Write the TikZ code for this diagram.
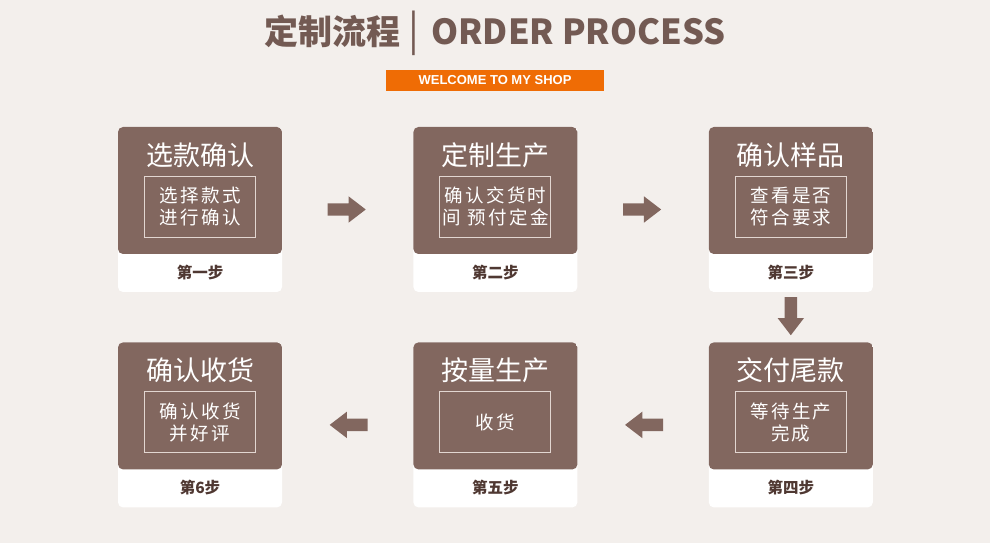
\documentclass[tikz,border=0pt]{standalone}
\usepackage{fontspec}
\setmainfont{Noto Sans CJK SC}
\newfontfamily\arialfont{Liberation Sans}
\usetikzlibrary{positioning,calc,shapes.arrows}
\definecolor{pagebg}{HTML}{F3EFEC}
\definecolor{cardbrown}{HTML}{82675F}
\definecolor{headbrown}{HTML}{735A53}
\definecolor{lbltext}{HTML}{4F3832}
\definecolor{shoporange}{HTML}{EF6C05}
\definecolor{boxline}{HTML}{E2D6D1}

\begin{document}
\begin{tikzpicture}
[x=1pt,y=1pt,
card/.style={fill=white,rounded corners=5pt,minimum width=164pt,minimum height=165pt,inner sep=0pt,
  path picture={\fill[cardbrown] ([yshift=38pt]path picture bounding box.south west) rectangle
    (path picture bounding box.north east);}},
ttl/.style={text=white,font=\fontsize{27}{30}\selectfont,inner sep=0pt},
inbox/.style={draw=boxline,line width=1pt,minimum width=111pt,minimum height=61pt,inner sep=0pt,
  text=white,align=center,font=\fontsize{18.5}{22}\selectfont\addfontfeature{LetterSpace=13}},
steplbl/.style={text=lbltext,font=\fontsize{15.5}{18}\selectfont\bfseries,inner sep=0pt},
barrow/.style={single arrow,fill=cardbrown,minimum height=38pt,inner sep=6pt,
  single arrow head extend=7pt,single arrow tip angle=75,single arrow head indent=0pt}]
\fill[pagebg] (0,0) rectangle (990,543);
\useasboundingbox (0,0) rectangle (990,543);
% header
\node[text=headbrown,inner sep=0pt] (head) at (495,510)
  {{\fontsize{34}{40}\selectfont\bfseries 定制流程}\hspace{8pt}{\fontsize{40}{40}\selectfont |}\hspace{12pt}{\fontsize{34.5}{40}\selectfont\bfseries ORDER PROCESS}};
\node[fill=shoporange,minimum width=218pt,minimum height=21pt,inner sep=0pt,text=white,
  font=\arialfont\bfseries\fontsize{13}{14}\selectfont] (shop) at (495,462.5) {WELCOME TO MY SHOP};
% cards
\node[card] (s1) at (200,333.5) {};
\node[card,right=131pt of s1] (s2) {};
\node[card,right=131pt of s2] (s3) {};
\node[card,below=50pt of s3] (s4) {};
\node[card,left=131pt of s4] (s5) {};
\node[card,left=131pt of s5] (s6) {};
% titles
\node[ttl] (t1) at ([yshift=-28pt]s1.north) {选款确认};
\node[ttl] (t2) at ([yshift=-28pt]s2.north) {定制生产};
\node[ttl] (t3) at ([yshift=-28pt]s3.north) {确认样品};
\node[ttl] (t4) at ([yshift=-28pt]s4.north) {交付尾款};
\node[ttl] (t5) at ([yshift=-28pt]s5.north) {按量生产};
\node[ttl] (t6) at ([yshift=-28pt]s6.north) {确认收货};
% inner boxes
\node[inbox] (b1) at ([yshift=-80pt]s1.north) {选择款式\\进行确认};
\node[inbox] (b2) at ([yshift=-80pt]s2.north) {确认交货时\\间 预付定金};
\node[inbox] (b3) at ([yshift=-80pt]s3.north) {查看是否\\符合要求};
\node[inbox] (b4) at ([yshift=-80pt]s4.north) {等待生产\\完成};
\node[inbox] (b5) at ([yshift=-80pt]s5.north) {收货};
\node[inbox] (b6) at ([yshift=-80pt]s6.north) {确认收货\\并好评};
% step labels
\node[steplbl] (l1) at ([yshift=20pt]s1.south) {第一步};
\node[steplbl] (l2) at ([yshift=20pt]s2.south) {第二步};
\node[steplbl] (l3) at ([yshift=20pt]s3.south) {第三步};
\node[steplbl] (l4) at ([yshift=20pt]s4.south) {第四步};
\node[steplbl] (l5) at ([yshift=20pt]s5.south) {第五步};
\node[steplbl] (l6) at ([yshift=20pt]s6.south) {第6步};
% arrows
\node[barrow] (a12) at ([xshift=-5pt]$(s1.east)!0.5!(s2.west)$) {};
\node[barrow] (a23) at ([xshift=-5pt]$(s2.east)!0.5!(s3.west)$) {};
\node[barrow,rotate=-90] (a34) at ([yshift=5pt]$(s3.south)!0.5!(s4.north)$) {};
\node[barrow,rotate=180] (a45) at ([xshift=5pt]$(s4.west)!0.5!(s5.east)$) {};
\node[barrow,rotate=180] (a56) at ([xshift=5pt]$(s5.west)!0.5!(s6.east)$) {};
\end{tikzpicture}
\end{document}
